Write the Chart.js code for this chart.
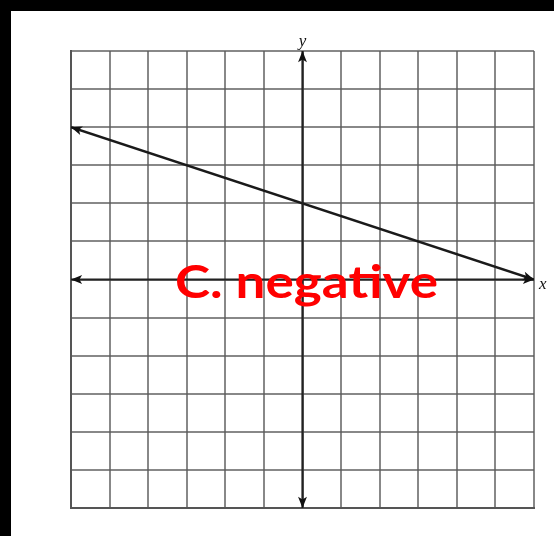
<!DOCTYPE html>
<html>
<head>
<meta charset="utf-8">
<script src="https://cdn.jsdelivr.net/npm/chart.js@4"></script>
<style>
  html, body { margin: 0; padding: 0; background: #000; }
  #wrap { width: 554px; height: 536px; }
</style>
</head>
<body>
<div id="wrap"><canvas id="chart" width="554" height="536"></canvas></div>
<script>
// graph values
const lineX = [-6, 6];
const lineY = [4, 0];
const axisMin = -6;
const axisMax = 6;
const caption = "C. negative";

const toPoints = (xs, ys) => xs.map((x, i) => ({ x: x, y: ys[i] }));

// background: black frame, white paper
const paperPlugin = {
  id: "paper",
  beforeDraw(chart) {
    const c = chart.ctx;
    c.save();
    c.fillStyle = "#000";
    c.fillRect(0, 0, chart.width, chart.height);
    c.fillStyle = "#fff";
    c.fillRect(11, 11, chart.width - 11, chart.height - 11);
    c.restore();
  }
};

function arrowHead(c, x1, y1, x2, y2, size) {
  const a = Math.atan2(y2 - y1, x2 - x1);
  c.beginPath();
  c.moveTo(x2, y2);
  c.lineTo(x2 - size * Math.cos(a - 0.38), y2 - size * Math.sin(a - 0.38));
  c.lineTo(x2 - size * 0.7 * Math.cos(a), y2 - size * 0.7 * Math.sin(a));
  c.lineTo(x2 - size * Math.cos(a + 0.38), y2 - size * Math.sin(a + 0.38));
  c.closePath();
  c.fill();
}

// arrows on both ends of each dataset, plus axis letters and the caption
const arrowPlugin = {
  id: "arrows",
  afterDatasetsDraw(chart) {
    const c = chart.ctx;
    c.save();
    c.fillStyle = "#111";
    chart.data.datasets.forEach((ds, i) => {
      const pts = chart.getDatasetMeta(i).data;
      const p0 = pts[0], p1 = pts[pts.length - 1];
      arrowHead(c, p1.x, p1.y, p0.x, p0.y, 12);
      arrowHead(c, p0.x, p0.y, p1.x, p1.y, 12);
    });
    const xs = chart.scales.x, ys = chart.scales.y;
    c.font = "italic 17px 'Liberation Serif', serif";
    c.textAlign = "center";
    c.textBaseline = "alphabetic";
    c.fillText("y", xs.getPixelForValue(0), ys.top - 5);
    c.textAlign = "left";
    c.fillText("x", xs.right + 5, ys.getPixelForValue(0) + 9);

    // caption, stretched to the width it has in the picture
    c.fillStyle = "#ff0000";
    c.font = "bold 46px Lato, 'Noto Sans', sans-serif";
    c.textAlign = "center";
    c.textBaseline = "alphabetic";
    const w = c.measureText(caption).width;
    c.translate(306.5, 298);
    c.scale(263 / w, 1);
    c.fillText(caption, 0, 0);
    c.restore();
  }
};

const gridColor = (ctx) => "rgba(90,90,90,0.72)";

new Chart(document.getElementById("chart"), {
  type: "scatter",
  data: {
    datasets: [
      {
        data: toPoints([axisMin, axisMax], [0, 0]),
        showLine: true, borderColor: "#222", borderWidth: 2.2, pointRadius: 0
      },
      {
        data: toPoints([0, 0], [axisMin, axisMax]),
        showLine: true, borderColor: "#222", borderWidth: 2.2, pointRadius: 0
      },
      {
        data: toPoints(lineX, lineY),
        showLine: true, borderColor: "#1a1a1a", borderWidth: 2.5, pointRadius: 0
      }
    ]
  },
  options: {
    responsive: false,
    animation: false,
    layout: { padding: { left: 71, top: 51, right: 20, bottom: 28 } },
    plugins: { legend: { display: false }, tooltip: { enabled: false } },
    scales: {
      x: {
        type: "linear", min: axisMin, max: axisMax,
        ticks: { display: false, stepSize: 1 },
        grid: { color: gridColor, lineWidth: 2, drawTicks: false },
        border: { display: true, color: "#555", width: 2 }
      },
      y: {
        type: "linear", min: axisMin, max: axisMax,
        ticks: { display: false, stepSize: 1 },
        grid: { color: gridColor, lineWidth: 2, drawTicks: false },
        border: { display: true, color: "#555", width: 2 }
      }
    }
  },
  plugins: [paperPlugin, arrowPlugin]
});
</script>
</body>
</html>
